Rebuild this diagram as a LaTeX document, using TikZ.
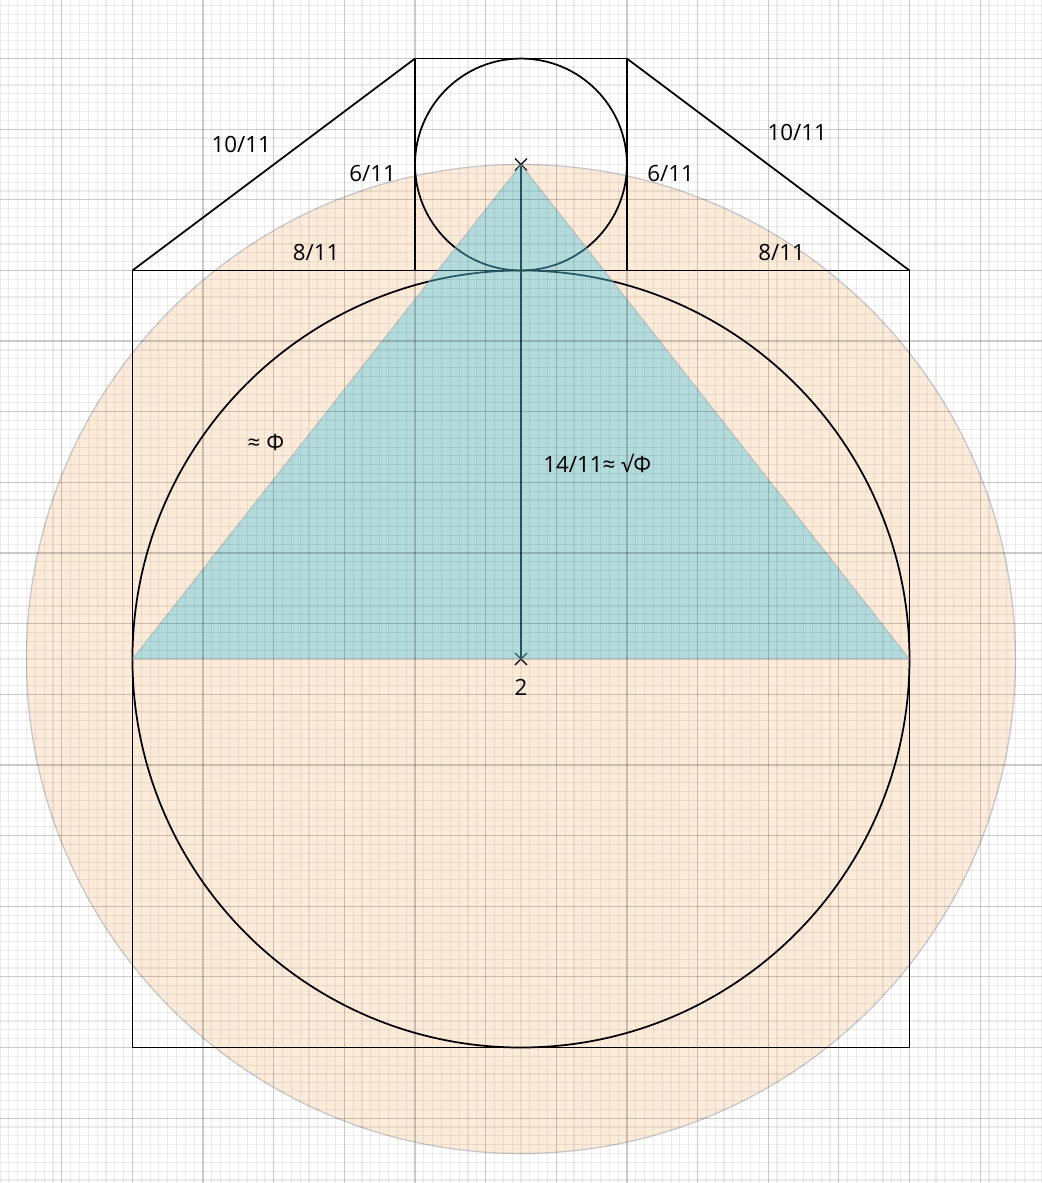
\documentclass[tikz,border=0pt]{standalone}
\usepackage{fontspec}
\setmainfont{Open Sans}
\usetikzlibrary{calc}
\definecolor{peach}{RGB}{253,235,218}
\definecolor{teal}{RGB}{89,200,224}

\begin{document}
\begin{tikzpicture}[x=1cm,y=1cm,
    struct/.style={black,line width=0.7pt},
    minorgrid/.style={black,draw opacity=0.07,line width=0.45pt},
    majorgrid/.style={black,draw opacity=0.2,line width=0.5pt},
    lbl/.style={font=\fontsize{9}{11}\selectfont,inner sep=1pt},
    cross/.style={black,line width=0.5pt}]
  % fix the frame
  \useasboundingbox (-7.375,-7.418) rectangle (7.375,9.329);
  \coordinate (O)    at (0,0);
  \coordinate (apex) at (0,7);
  \coordinate (bl)   at (-5.5,-5.5);
  \coordinate (tr)   at (5.5,5.5);
  \coordinate (tl)   at (-5.5,5.5);
  \coordinate (sbl)  at (-1.5,5.5);
  \coordinate (str)  at (1.5,8.5);
  \coordinate (stl)  at (-1.5,8.5);
  % draw big circle
  \draw[fill=peach,draw=black!22,line width=0.5pt] (O) circle (7);
  % draw square, circles and roof
  \draw[struct] (bl) rectangle (tr);
  \draw[struct] (O) circle (5.5);
  \draw[struct] (sbl) rectangle (str);
  \draw[struct] (apex) circle (1.5);
  \draw[struct] (tl) -- (stl);
  \draw[struct] (str) -- (tr);
  \draw[struct] (apex) -- (O);
  % draw marks
  \foreach \p in {apex,O}
    \draw[cross] ($(\p)+(-0.085,-0.085)$) -- ($(\p)+(0.085,0.085)$)
                 ($(\p)+(-0.085,0.085)$) -- ($(\p)+(0.085,-0.085)$);
  % draw triangle
  \filldraw[fill=teal,draw=black!35,opacity=0.45,line width=0.5pt]
        (apex) -- (-5.5,0) -- (5.5,0) -- cycle;
  % draw grid (major every 8th line)
  \clip (-7.375,-7.418) rectangle (7.375,9.329);
  \foreach \i in {-59,...,59}{
    \pgfmathtruncatemacro\r{mod(\i+100,8)}
    \ifnum\r=0 \def\gs{majorgrid}\else\def\gs{minorgrid}\fi
    \draw[\gs] (\i/8,-7.5) -- (\i/8,9.5);
  }
  \foreach \i in {-59,...,75}{
    \pgfmathtruncatemacro\r{mod(\i+100,8)}
    \ifnum\r=0 \def\gs{majorgrid}\else\def\gs{minorgrid}\fi
    \draw[\gs] (-7.5,\i/8) -- (7.5,\i/8);
  }
  % draw labels
  \node[lbl] (roofl)  at (-3.96,7.29) {10/11};
  \node[lbl] (roofr)  at (3.91,7.46)  {10/11};
  \node[lbl] (sidel)  at (-2.10,6.87) {6/11};
  \node[lbl] (sider)  at (2.12,6.87)  {6/11};
  \node[lbl] (eavel)  at (-2.90,5.75) {8/11};
  \node[lbl] (eaver)  at (3.69,5.75)  {8/11};
  \node[lbl] (phi)    at (-3.61,3.06) {≈ Φ};
  \node[lbl] (height) at (1.08,2.77)  {14/11≈ √Φ};
  \node[lbl] (base)   at (0,-0.40)    {2};
\end{tikzpicture}
\end{document}
